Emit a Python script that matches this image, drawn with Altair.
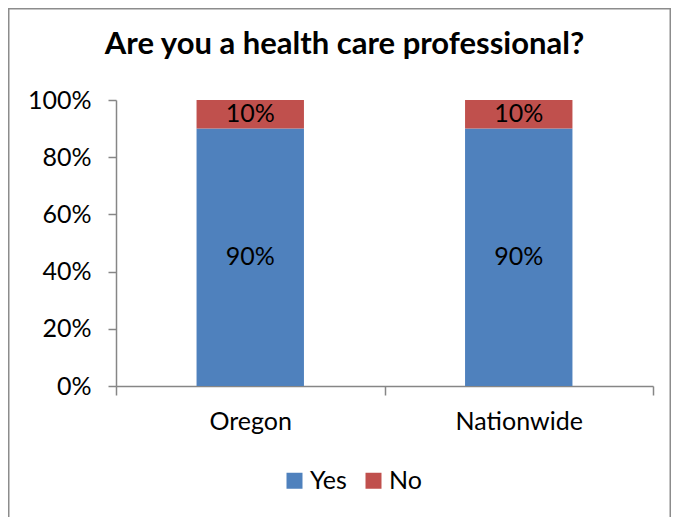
import altair as alt
import pandas as pd

categories = ["Oregon", "Nationwide"]
responses = ["Yes", "No"]
yes_values = [0.90, 0.90]
no_values = [0.10, 0.10]
colors = ["#4F81BD", "#C0504D"]
y_ticks = [0, 0.2, 0.4, 0.6, 0.8, 1.0]

rows = []
for i, c in enumerate(categories):
    rows.append({"region": c, "response": "Yes", "value": yes_values[i], "rank": 0})
    rows.append({"region": c, "response": "No", "value": no_values[i], "rank": 1})
df = pd.DataFrame(rows)

FONT = "Lato"
AX = "#868686"
W, H = 537, 286
FS = 25

x_enc = alt.X("region:N", sort=categories, title=None,
              scale=alt.Scale(paddingInner=0, paddingOuter=0),
              axis=alt.Axis(labelAngle=0, tickBand="extent", tickSize=9,
                            labelPadding=14, labelFontSize=FS, labelFont=FONT,
                            labelColor="#000000", domainColor=AX, tickColor=AX,
                            domainWidth=1.5, tickWidth=1.5))
y_enc = alt.Y("value:Q", stack="zero", title=None,
              scale=alt.Scale(domain=[0, 1], nice=False),
              axis=alt.Axis(values=y_ticks, format=".0%", grid=False, tickSize=8,
                            labelPadding=17, labelFontSize=FS, labelFont=FONT,
                            labelColor="#000000", domainColor=AX, tickColor=AX,
                            domainWidth=1.5, tickWidth=1.5))

bars = alt.Chart(df).mark_bar(width=alt.RelativeBandSize(0.4)).encode(
    x=x_enc,
    y=y_enc,
    color=alt.Color("response:N", sort=responses,
                    scale=alt.Scale(domain=responses, range=colors),
                    legend=alt.Legend(title=None, orient="none", direction="horizontal",
                                      legendX=166, legendY=368, symbolType="square",
                                      symbolSize=256, symbolStrokeWidth=0,
                                      labelFontSize=FS, labelFont=FONT, labelColor="#000000",
                                      columnPadding=14, labelOffset=3, padding=0)),
    order=alt.Order("rank:Q"),
)

labels = alt.Chart(df).transform_stack(
    stack="value", groupby=["region"], as_=["v0", "v1"],
    sort=[alt.SortField("rank", order="ascending")]
).transform_calculate(
    mid="(datum.v0 + datum.v1) / 2"
).mark_text(font=FONT, fontSize=FS, color="#000000", baseline="middle").encode(
    x=alt.X("region:N", sort=categories),
    y=alt.Y("mid:Q"),
    text=alt.Text("value:Q", format=".0%"),
)

border = alt.Chart(alt.Data(values=[{"a": 1}])).mark_rect(
    filled=False, stroke="#8C8C8C", strokeWidth=1.5
).encode(
    x=alt.value(-107.25), x2=alt.value(W + 17.25),
    y=alt.value(-91.25), y2=alt.value(H + 140),
)

chart = alt.layer(border, bars, labels).properties(
    width=W, height=H,
    title=alt.TitleParams("Are you a health care professional?", font=FONT,
                          fontSize=31, fontWeight="bold", color="#000000",
                          anchor="middle", dx=-40, offset=-77, baseline="alphabetic"),
    autosize=alt.AutoSizeParams(type="none"),
    padding={"left": 108, "top": 92, "right": 18, "bottom": 131},
).configure_view(stroke=None)

chart.save("out.html", embed_options={"renderer": "svg", "actions": False})
